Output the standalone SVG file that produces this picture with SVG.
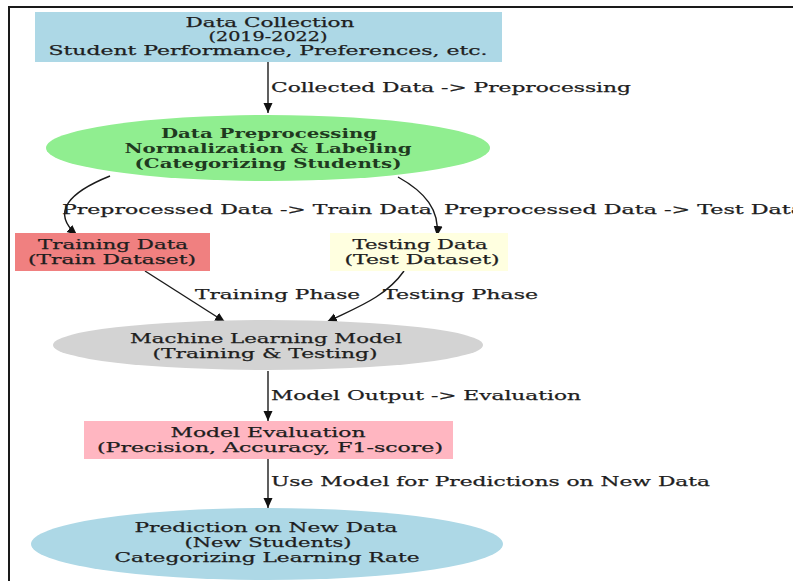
<svg xmlns="http://www.w3.org/2000/svg" width="793" height="581" viewBox="0 0 793 581">
  <defs>
    <marker id="arrow" viewBox="0 0 10 10" refX="10" refY="5" markerWidth="10" markerHeight="10" markerUnits="userSpaceOnUse" orient="auto">
      <path d="M0,0.5 L10,5 L0,9.5 Z" fill="#111"/>
    </marker>
  </defs>
  <style>
    text { font-family: "DejaVu Serif", "Liberation Serif", serif; font-size: 13px; fill: #1e1e1e; stroke: #1e1e1e; stroke-width: 0.25; }
    .c { text-anchor: middle; }
    .b { font-weight: bold; fill: #1f3a1f; stroke: none; }
    .edge { fill: none; stroke: #1a1a1a; stroke-width: 1.4; marker-end: url(#arrow); }
    .frame { fill: none; stroke: #1a1a1a; stroke-width: 2; }
  </style>

  <rect width="793" height="581" fill="#ffffff"/>
  <path class="frame" d="M9,581 L9,7 L793,7"/>

  <!-- connectors -->
  <g id="edges">
    <path class="edge" d="M268,62 L268,113"/>
    <text x="271" y="92" textLength="360" lengthAdjust="spacingAndGlyphs">Collected Data -&gt; Preprocessing</text>

    <path class="edge" d="M110,176 C70,192 50,212 77,235"/>
    <text x="62" y="214" textLength="370" lengthAdjust="spacingAndGlyphs">Preprocessed Data -&gt; Train Data</text>

    <path class="edge" d="M398,177 C425,192 440,210 437,236"/>
    <text x="444" y="214" textLength="360" lengthAdjust="spacingAndGlyphs">Preprocessed Data -&gt; Test Data</text>

    <path class="edge" d="M145,271 L225,322"/>
    <text x="195" y="299" textLength="165" lengthAdjust="spacingAndGlyphs">Training Phase</text>

    <path class="edge" d="M404,271 C385,298 355,308 327,322"/>
    <text x="383" y="299" textLength="155" lengthAdjust="spacingAndGlyphs">Testing Phase</text>

    <path class="edge" d="M268,371 L268,421"/>
    <text x="271" y="400" textLength="310" lengthAdjust="spacingAndGlyphs">Model Output -&gt; Evaluation</text>

    <path class="edge" d="M268,459 L268,508"/>
    <text x="271" y="486" textLength="439" lengthAdjust="spacingAndGlyphs">Use Model for Predictions on New Data</text>
  </g>

  <g id="data-collection">
    <rect x="35" y="12" width="467" height="50" fill="#add8e6"/>
    <text class="c" x="270" y="27" textLength="169" lengthAdjust="spacingAndGlyphs">Data Collection</text>
    <text class="c" x="268" y="41" textLength="119" lengthAdjust="spacingAndGlyphs">(2019-2022)</text>
    <text class="c" x="268" y="55" textLength="439" lengthAdjust="spacingAndGlyphs">Student Performance, Preferences, etc.</text>
  </g>

  <g id="preprocessing">
    <ellipse cx="268" cy="148" rx="222" ry="33" fill="#90ee90"/>
    <text class="c b" x="269" y="138" textLength="216" lengthAdjust="spacingAndGlyphs">Data Preprocessing</text>
    <text class="c b" x="268" y="153" textLength="287" lengthAdjust="spacingAndGlyphs">Normalization &amp; Labeling</text>
    <text class="c b" x="268" y="168" textLength="267" lengthAdjust="spacingAndGlyphs">(Categorizing Students)</text>
  </g>

  <g id="training-data">
    <rect x="15" y="233" width="195" height="38" fill="#f08080"/>
    <text class="c" x="113" y="249" textLength="150" lengthAdjust="spacingAndGlyphs">Training Data</text>
    <text class="c" x="112" y="264" textLength="168" lengthAdjust="spacingAndGlyphs">(Train Dataset)</text>
  </g>

  <g id="testing-data">
    <rect x="330" y="233" width="178" height="38" fill="#ffffe0"/>
    <text class="c" x="420" y="249" textLength="135" lengthAdjust="spacingAndGlyphs">Testing Data</text>
    <text class="c" x="422" y="264" textLength="155" lengthAdjust="spacingAndGlyphs">(Test Dataset)</text>
  </g>

  <g id="ml-model">
    <ellipse cx="268" cy="345" rx="215" ry="25" fill="#d3d3d3"/>
    <text class="c" x="266" y="343" textLength="272" lengthAdjust="spacingAndGlyphs">Machine Learning Model</text>
    <text class="c" x="265" y="358" textLength="225" lengthAdjust="spacingAndGlyphs">(Training &amp; Testing)</text>
  </g>

  <g id="evaluation">
    <rect x="84" y="421" width="369" height="38" fill="#ffb6c1"/>
    <text class="c" x="268" y="437" textLength="195" lengthAdjust="spacingAndGlyphs">Model Evaluation</text>
    <text class="c" x="270" y="452" textLength="346" lengthAdjust="spacingAndGlyphs">(Precision, Accuracy, F1-score)</text>
  </g>

  <g id="prediction">
    <ellipse cx="267" cy="544" rx="236" ry="36" fill="#add8e6"/>
    <text class="c" x="266" y="532" textLength="263" lengthAdjust="spacingAndGlyphs">Prediction on New Data</text>
    <text class="c" x="268" y="547" textLength="167" lengthAdjust="spacingAndGlyphs">(New Students)</text>
    <text class="c" x="267" y="562" textLength="305" lengthAdjust="spacingAndGlyphs">Categorizing Learning Rate</text>
  </g>
</svg>
